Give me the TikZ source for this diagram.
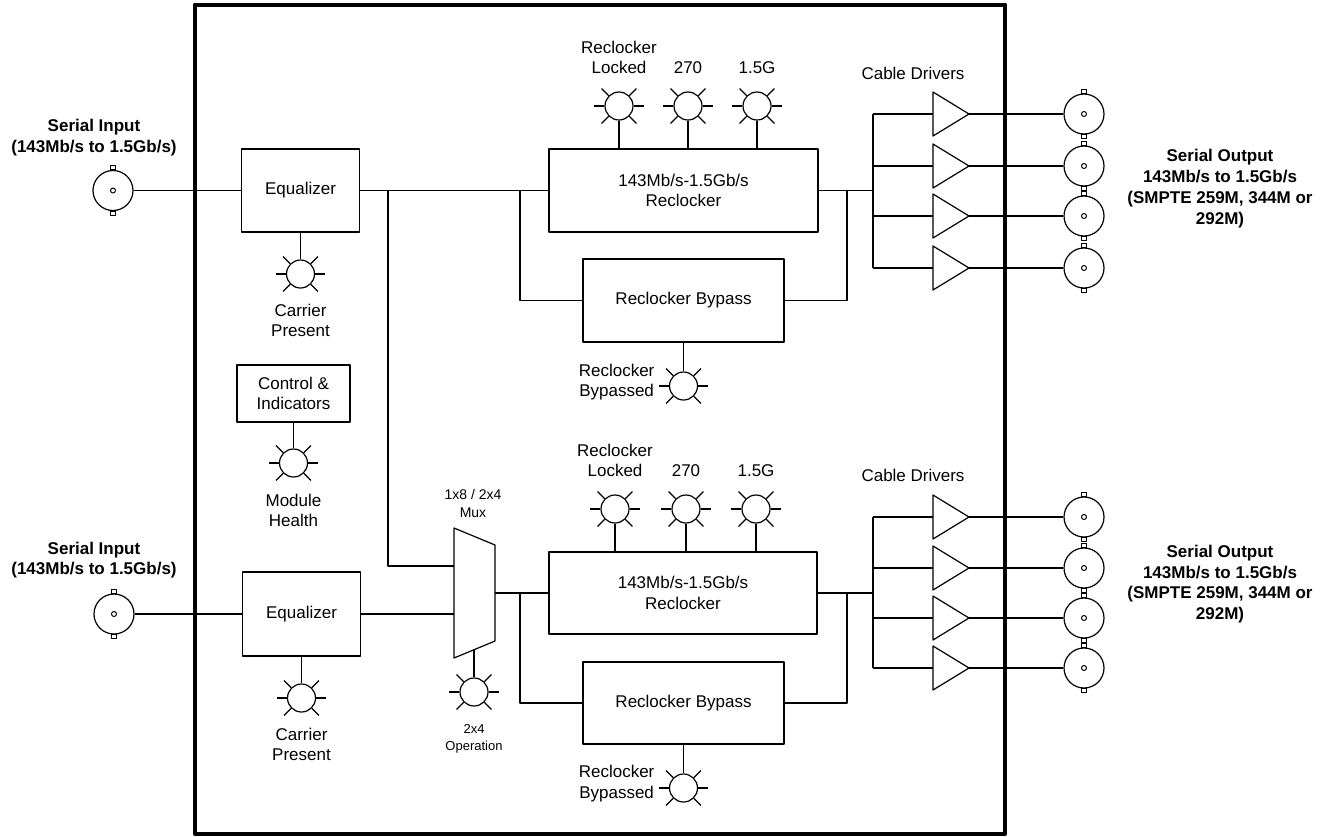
\documentclass[tikz,border=0pt]{standalone}
\usepackage{fontspec}
\setmainfont{Liberation Sans}
\usetikzlibrary{calc}

\tikzset{
  blk/.style={draw, align=center, inner sep=0pt},
  lampnode/.style={draw, circle, minimum size=28pt, inner sep=0pt},
  bncnode/.style={draw, circle, minimum size=40pt, inner sep=0pt},
  lbl/.style={align=center, inner sep=0pt},
  hdr/.style={align=center, inner sep=0pt, font=\fontsize{17}{20.8}\selectfont\bfseries},
}

% indicator lamp: name, position
\newcommand{\lamp}[2]{%
  \node[lampnode] (#1) at (#2) {};
  \foreach \a in {0,45,135,180,225,315} \draw (#1.\a) -- ++(\a:10pt);
}
% BNC connector: name, position
\newcommand{\bnc}[2]{%
  \node[bncnode] (#1) at (#2) {};
  \draw[line width=1pt] (#1.north) ++(-2.5pt,0pt) rectangle ++(5pt,4pt);
  \draw[line width=1pt] (#1.south) ++(-2.5pt,0pt) rectangle ++(5pt,-4pt);
  \draw[line width=1pt] (#1) circle[radius=2.5pt];
}
% cable driver: name, input point
\newcommand{\cabledrv}[2]{%
  \coordinate (#1) at (#2);
  \draw (#1) ++(0pt,22pt) -- ++(36pt,-22pt) coordinate (#1-tip) -- ++(-36pt,-22pt) -- cycle;
}

\begin{document}
\begin{tikzpicture}[x=1pt, y=-1pt, line join=round, line width=1.2pt,
    font=\fontsize{17}{20.5}\selectfont]
  \useasboundingbox (0,0) rectangle (1327,836);
  % card outline
  \draw[line width=4pt] (194.7,4.7) rectangle (1005.3,833.7);

  % ---------- upper channel
  \bnc{inA}{113,190.5}
  \node[hdr] (tInA) at (94,137.5) {Serial Input\\(143Mb/s to 1.5Gb/s)};
  \node[blk, minimum width=118pt, minimum height=83pt] (eqA) at (300.5,190.5) {Equalizer};
  \lamp{lEqA}{300.5,274}
  \node[lbl] (tEqA) at (300.5,320.5) {Carrier\\Present};
  \node[blk, minimum width=269pt, minimum height=83pt] (rclA) at (683.5,190.5) {143Mb/s-1.5Gb/s\\Reclocker};
  \node[blk, minimum width=201pt, minimum height=83pt] (bypA) at (683.5,300.5) {Reclocker Bypass};
  \lamp{lBypA}{683.5,386}
  \node[lbl, anchor=east] (tBypA) at (655,382) {Reclocker\\Bypassed};
  \lamp{lLockA}{619,106}
  \lamp{lSdA}{688,106}
  \lamp{lHdA}{757,106}
  \node[lbl] (tLockA) at (619,57.5) {Reclocker\\Locked};
  \node[lbl] (tSdA) at (688,68) {270};
  \node[lbl] (tHdA) at (757,68) {1.5G};
  \node[lbl] (tDrvA) at (913,73) {Cable Drivers};
  \node[hdr] (tOutA) at (1220,188.5) {Serial Output\\143Mb/s to 1.5Gb/s\\(SMPTE 259M, 344M or\\292M)};

  \coordinate (spA) at (388,190.5);
  \coordinate (brA) at (520,190.5);
  \coordinate (mgA) at (847,190.5);
  \coordinate (jA) at (873,190.5);

  \draw (inA) -- (eqA);
  \draw (eqA) -- (rclA);
  \draw (eqA) -- (lEqA);
  \draw (brA) |- (bypA);
  \draw (rclA) -- (jA);
  \draw (mgA) |- (bypA);
  \draw (bypA) -- (lBypA);
  \foreach \l in {lLockA,lSdA,lHdA} \draw (\l) -- (\l |- rclA.north);
  \foreach \i/\y in {1/114,2/166,3/216,4/268} {
    \cabledrv{dA\i}{933,\y}
    \bnc{oA\i}{1084,\y}
    \draw (dA\i -| jA) -- (dA\i);
    \draw (dA\i-tip) -- (oA\i);
  }
  \draw (dA1 -| jA) -- (dA4 -| jA);

  % ---------- control
  \node[blk, minimum width=113pt, minimum height=57pt] (ctl) at (293.5,393.5) {Control \&\\Indicators};
  \lamp{lCtl}{293.5,463}
  \node[lbl] (tCtl) at (293.5,510.5) {Module\\Health};
  \draw (ctl) -- (lCtl);

  % ---------- mux
  \draw (454,528) -- (495,545) -- (495,641) -- (454,658) -- cycle;
  \coordinate (mxInA) at (454,566);
  \coordinate (mxInB) at (454,614);
  \coordinate (mxOut) at (495,593);
  \coordinate (mxBot) at (474,649.7);
  \node[lbl, font=\fontsize{14}{17.5}\selectfont] (tMux) at (473,503.5) {1x8 / 2x4\\Mux};
  \lamp{lMux}{474,692}
  \node[lbl, font=\fontsize{13}{17}\selectfont] (tMuxOp) at (474,739) {2x4\\Operation};
  \draw (mxBot) -- (lMux);
  \draw (spA) |- (mxInA);

  % ---------- lower channel
  \bnc{inB}{114,614}
  \node[hdr] (tInB) at (94,560) {Serial Input\\(143Mb/s to 1.5Gb/s)};
  \node[blk, minimum width=118pt, minimum height=84pt] (eqB) at (301.5,614) {Equalizer};
  \lamp{lEqB}{301.5,698}
  \node[lbl] (tEqB) at (301.5,744.5) {Carrier\\Present};
  \node[blk, minimum width=268pt, minimum height=82pt] (rclB) at (683,593) {143Mb/s-1.5Gb/s\\Reclocker};
  \node[blk, minimum width=201pt, minimum height=82pt] (bypB) at (683.5,703) {Reclocker Bypass};
  \lamp{lBypB}{683.5,788}
  \node[lbl, anchor=east] (tBypB) at (655,783.5) {Reclocker\\Bypassed};
  \lamp{lLockB}{615,509}
  \lamp{lSdB}{686,509}
  \lamp{lHdB}{756,509}
  \node[lbl] (tLockB) at (615,460.5) {Reclocker\\Locked};
  \node[lbl] (tSdB) at (686,471) {270};
  \node[lbl] (tHdB) at (756,471) {1.5G};
  \node[lbl] (tDrvB) at (913,475) {Cable Drivers};
  \node[hdr] (tOutB) at (1220,584) {Serial Output\\143Mb/s to 1.5Gb/s\\(SMPTE 259M, 344M or\\292M)};

  \coordinate (brB) at (520,593);
  \coordinate (mgB) at (847,593);
  \coordinate (jB) at (873,593);

  \draw (inB) -- (eqB);
  \draw (eqB) -- (mxInB);
  \draw (eqB) -- (lEqB);
  \draw (mxOut) -- (rclB);
  \draw (brB) |- (bypB);
  \draw (rclB) -- (jB);
  \draw (mgB) |- (bypB);
  \draw (bypB) -- (lBypB);
  \foreach \l in {lLockB,lSdB,lHdB} \draw (\l) -- (\l |- rclB.north);
  \foreach \i/\y in {1/517,2/568,3/618,4/668} {
    \cabledrv{dB\i}{933,\y}
    \bnc{oB\i}{1084,\y}
    \draw (dB\i -| jB) -- (dB\i);
    \draw (dB\i-tip) -- (oB\i);
  }
  \draw (dB1 -| jB) -- (dB4 -| jB);
\end{tikzpicture}
\end{document}
